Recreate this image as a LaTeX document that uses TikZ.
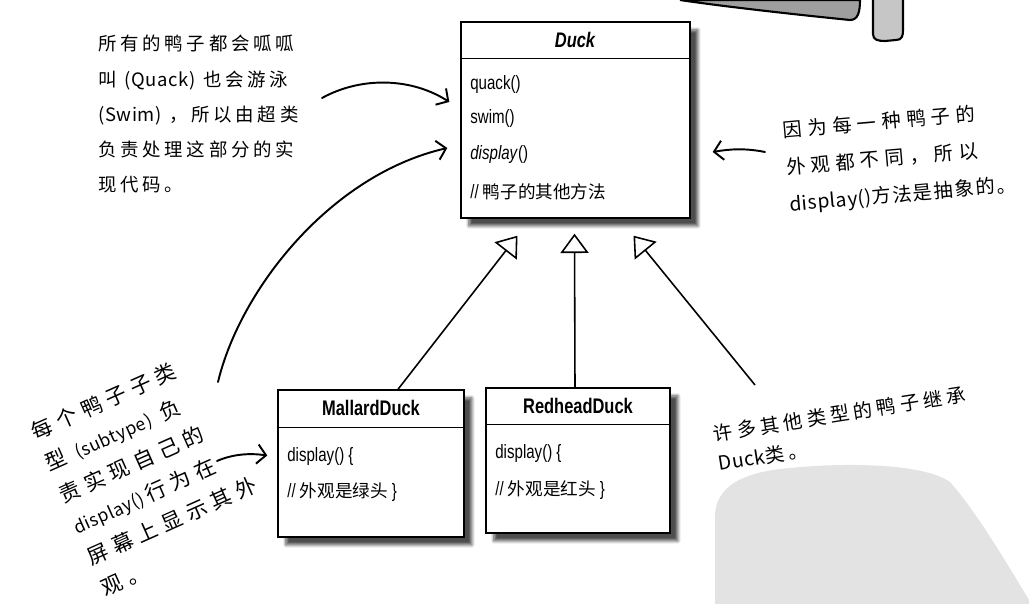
\documentclass[tikz,border=0pt]{standalone}
\usepackage{fontspec}
\newfontfamily\umlfont[FakeStretch=0.78]{Liberation Sans}
\newfontfamily\cjk{Noto Sans CJK SC}
\newfontfamily\hand{Noto Sans CJK SC}
\newcommand{\zh}[1]{{\cjk\fontsize{10}{12}\selectfont #1}}
\newcommand{\lat}[1]{{\addfontfeature{LetterSpace=3}#1}}
\usetikzlibrary{calc,positioning,arrows.meta,shadows,shadows.blur}
\newdimen\unitpx \unitpx=0.02cm

\begin{document}
\begin{tikzpicture}[
x=0.02cm,y=-0.02cm,
classbox/.style={
	draw,
	fill=white,
	line width=0.8pt,
	inner sep=0pt,
	blur shadow={shadow xshift=4.5pt,shadow yshift=-4.5pt,shadow blur steps=8,shadow opacity=70}
},
sep/.style={
	line width=0.8pt
},
title/.style={
	font=\umlfont\bfseries\fontsize{12}{14}\selectfont
},
member/.style={
	anchor=west,
	inner sep=0pt,
	font=\umlfont\fontsize{11}{13}\selectfont
},
extends/.style={
	-{Triangle[open,length=11pt,width=16pt]},
	line width=0.9pt
},
pointer/.style={
	-{Straight Barb[length=5pt,width=11pt]},
	line width=1.1pt,
	line cap=round
},
note/.style={
	align=left,
	inner sep=0pt,
	anchor=north west
}
]
\useasboundingbox (0,0) rectangle (1029,604);

% watermark and the torn corner at the top
\fill[gray!22] (715,604) -- (715,515) .. controls (716,488) and (740,472) .. (790,468)
	.. controls (850,462) and (925,464) .. (950,482)
	.. controls (975,510) and (1005,560) .. (1029,600) -- (1029,604) -- cycle;
\filldraw[fill=gray!75,draw=black,line width=1.2pt] (680,0) .. controls (720,6) and (790,14) .. (850,20)
	.. controls (858,20) and (860,12) .. (860,0) -- cycle;
\filldraw[fill=gray!45,draw=black,line width=1.2pt] (873,0) -- (873,34) .. controls (873,40) and (878,41) .. (885,41)
	-- (896,40) .. controls (902,40) and (903,36) .. (903,30) -- (903,0);

\node[classbox,minimum width=229\unitpx,minimum height=196\unitpx] (duck) at (575.5,120) {};
\draw[sep] ($(duck.north west)+(0,37)$) -- ($(duck.north east)+(0,37)$);
\node[title] (duckName) at (575,40) {\itshape Duck};
\foreach \y/\n/\m in {85/quack/quack(),119/swim/swim(),155/display/\textit{display}(),192/other/{// \zh{鸭子的其他方法}}}
\node[member] (\n) at (470,\y) {\m};

\node[classbox,minimum width=186\unitpx,minimum height=147\unitpx] (mallard) at (371,463.5) {};
\draw[sep] ($(mallard.north west)+(0,38)$) -- ($(mallard.north east)+(0,38)$);
\node[title] (mallardName) at (371,408) {MallardDuck};
\node[member] (mallardShow) at (287,457) {display() \{};
\node[member] (mallardLook) at (287,492) {// \zh{外观是绿头} \}};

\node[classbox,minimum width=184\unitpx,minimum height=145\unitpx] (redhead) at (578,460.5) {};
\draw[sep] ($(redhead.north west)+(0,37)$) -- ($(redhead.north east)+(0,37)$);
\node[title] (redheadName) at (578,406) {RedheadDuck};
\node[member] (redheadShow) at (495,454) {display() \{};
\node[member] (redheadLook) at (495,490) {// \zh{外观是红头} \}};

\coordinate (others) at (755,385);
\draw[extends] ($(mallard.north)+(27,0)$) -- ($(duck.south)+(-58,17)$);
\draw[extends] ($(redhead.north)+(-3,0)$) -- ($(duck.south)+(-1,15)$);
\draw[extends] (others) -- ($(duck.south)+(58,17)$);

\node[note,font=\hand\fontsize{10.5}{20}\selectfont\addfontfeature{LetterSpace=20}] (commonNote) at (98,35)
	{所有的鸭子都会呱呱\\叫 \lat{(Quack)} 也会游泳\\\lat{(Swim)} ，所以由超类\\负责处理这部分的实\\现代码。};
\node[note,rotate=5,font=\hand\fontsize{11}{21}\selectfont\addfontfeature{LetterSpace=28}] (abstractNote) at (782,121)
	{因为每一种鸭子的\\外观都不同，所以\\{\addfontfeature{LetterSpace=8}\lat{display()}方法是抽象的。}};
\node[note,rotate=24,font=\hand\fontsize{12}{19.5}\selectfont\addfontfeature{LetterSpace=28}] (subtypeNote) at (28,424)
	{每个鸭子子类\\型 {\fontsize{10}{19.5}\selectfont\lat{(subtype)}} 负\\责实现自己的\\{\fontsize{10}{19.5}\selectfont\lat{display()}}\,行为在\\屏幕上显示其外\\观。};
\node[note,rotate=9,font=\hand\fontsize{11}{17}\selectfont\addfontfeature{LetterSpace=22}] (othersNote) at (712,425)
	{许多其他类型的鸭子继承\\\lat{Duck}类。};

\coordinate (quackTail) at (322,98);
\coordinate (subtypeTail) at (218,382);
\coordinate (abstractTail) at (765,152);
\coordinate (showTail) at (217,461);
\draw[pointer] (quackTail) .. controls (362,76) and (412,78) .. ($(duck.west)+(-11,-18)$);
\draw[pointer] (subtypeTail) .. controls (240,290) and (330,175) .. ($(duck.west)+(-13,28)$);
\draw[pointer] (abstractTail) .. controls (745,148) and (730,149) .. ($(duck.east)+(22,32)$);
\draw[pointer] (showTail) .. controls (233,454) and (250,453) .. ($(mallard.west)+(-10,-8)$);
\end{tikzpicture}
\end{document}
